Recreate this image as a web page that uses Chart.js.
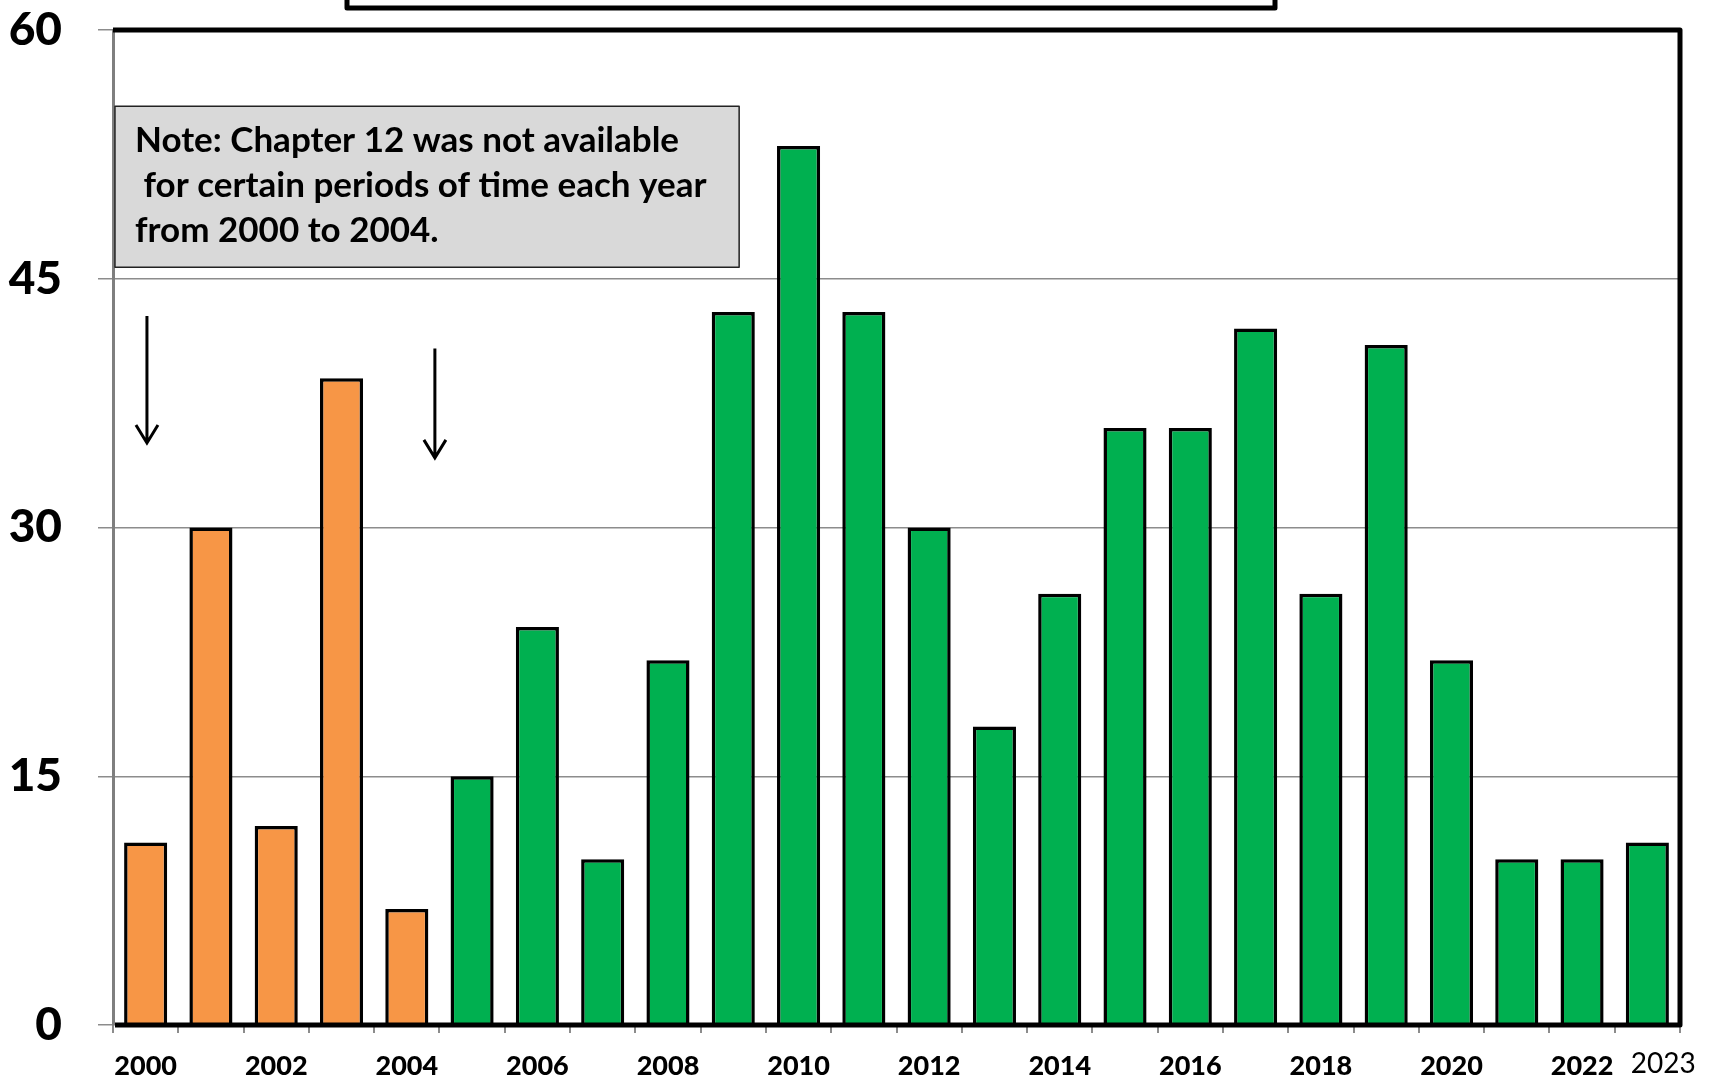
<!DOCTYPE html>
<html>
<head>
<meta charset="utf-8">
<script src="https://cdn.jsdelivr.net/npm/chart.js@4.4.1/dist/chart.umd.min.js"></script>
<style>
  html, body { margin: 0; padding: 0; background: #fff; }
  #wrap { width: 1715px; height: 1078px; }
</style>
</head>
<body>
<div id="wrap"><canvas id="chart" width="1715" height="1078"></canvas></div>
<script>
const years = ['2000', '2001', '2002', '2003', '2004', '2005', '2006', '2007', '2008', '2009', '2010', '2011',
               '2012', '2013', '2014', '2015', '2016', '2017', '2018', '2019', '2020', '2021', '2022', '2023'];
const counts = [11, 30, 12, 39, 7, 15, 24, 10, 22, 43, 53, 43, 30, 18, 26, 36, 36, 42, 26, 41, 22, 10, 10, 11];
// years when Chapter 12 was only partly available
const partialYears = ['2000', '2001', '2002', '2003', '2004'];
const yTicks = [0, 15, 30, 45, 60];
const noteLines = ['Note: Chapter 12 was not available', ' for certain periods of time each year', 'from 2000 to 2004.'];

const ORANGE = '#F79646';
const GREEN = '#00B050';
const FONT = 'Lato';

// arrows and note box, in scale units (category index / count)
const arrows = [
    { x: 0.02, from: 42.75, to: 35.1 },
    { x: 4.43, from: 40.8, to: 34.2 }
];
const noteBox = { x0: -0.47, x1: 9.09, top: 55.4, bottom: 45.7 };

function drawArrow(ctx, x, y1, y2) {
    ctx.beginPath();
    ctx.moveTo(x, y1);
    ctx.lineTo(x, y2);
    ctx.moveTo(x - 11, y2 - 18);
    ctx.lineTo(x, y2);
    ctx.lineTo(x + 11, y2 - 18);
    ctx.stroke();
}

const overlay = {
    id: 'overlay',
    afterDraw(chart) {
        const { ctx, chartArea: a, scales: { x, y } } = chart;
        ctx.save();

        // plot frame (top, right, bottom)
        ctx.strokeStyle = '#000';
        ctx.lineWidth = 5;
        ctx.lineJoin = 'round';
        ctx.beginPath();
        ctx.moveTo(a.left, a.top);
        ctx.lineTo(a.right, a.top);
        ctx.lineTo(a.right, a.bottom);
        ctx.lineTo(a.left + 2, a.bottom);
        ctx.stroke();

        // cut-off title box at the very top
        ctx.fillStyle = '#fff';
        ctx.fillRect(347, -20, 928, 28);
        ctx.strokeRect(347, -20, 928, 28);

        // note box
        const bx0 = x.getPixelForValue(noteBox.x0), bx1 = x.getPixelForValue(noteBox.x1);
        const by0 = y.getPixelForValue(noteBox.top), by1 = y.getPixelForValue(noteBox.bottom);
        ctx.fillStyle = '#D9D9D9';
        ctx.fillRect(bx0, by0, bx1 - bx0, by1 - by0);
        ctx.lineWidth = 1.5;
        ctx.strokeStyle = '#222';
        ctx.strokeRect(bx0, by0, bx1 - bx0, by1 - by0);
        ctx.fillStyle = '#000';
        ctx.font = 'bold 35px ' + FONT;
        ctx.textBaseline = 'alphabetic';
        ctx.textAlign = 'left';
        noteLines.forEach((line, i) => {
            ctx.fillText(line, bx0 + 20, by0 + 46 + i * 45);
        });

        // arrows
        ctx.strokeStyle = '#000';
        ctx.lineWidth = 3;
        ctx.lineJoin = 'miter';
        arrows.forEach(ar => {
            drawArrow(ctx, x.getPixelForValue(ar.x), y.getPixelForValue(ar.from), y.getPixelForValue(ar.to));
        });

        // last year's label sits a little to the right, in a lighter weight
        ctx.font = '28px ' + FONT;
        ctx.textAlign = 'center';
        ctx.textBaseline = 'middle';
        ctx.fillText(years[years.length - 1], x.getPixelForValue(years.length - 1) + 16, a.bottom + 39);

        ctx.restore();
    }
};

new Chart(document.getElementById('chart'), {
    type: 'bar',
    data: {
        labels: years,
        datasets: [{
            data: counts,
            backgroundColor: years.map(yr => partialYears.includes(yr) ? ORANGE : GREEN),
            borderColor: '#000',
            borderWidth: 3.5,
            barPercentage: 0.66,
            categoryPercentage: 1
        }]
    },
    options: {
        responsive: false,
        animation: false,
        layout: { padding: { top: 30, right: 35, left: 0, bottom: 0 } },
        plugins: {
            legend: { display: false },
            tooltip: { enabled: false }
        },
        scales: {
            x: {
                grid: { offset: true, drawOnChartArea: false, tickLength: 8, color: '#8c8c8c', lineWidth: 2 },
                border: { display: false },
                ticks: {
                    autoSkip: false,
                    maxRotation: 0,
                    padding: 17,
                    color: '#000',
                    font: { family: FONT, size: 27, weight: '900' },
                    callback: (v, i) => (i % 2 === 0 && i < years.length - 1) ? years[i] : ''
                },
                afterFit: s => { s.height = 53; s.paddingLeft = 0; s.paddingRight = 0; }
            },
            y: {
                min: 0,
                max: 60,
                afterBuildTicks: s => { s.ticks = yTicks.map(v => ({ value: v })); },
                grid: { color: '#8c8c8c', lineWidth: 1.5, tickLength: 15 },
                border: { color: '#7f7f7f', width: 3 },
                ticks: {
                    padding: 36,
                    color: '#000',
                    font: { family: FONT, size: 46, weight: '900' }
                },
                afterFit: s => { s.width = 113; s.paddingTop = 0; s.paddingBottom = 0; }
            }
        }
    },
    plugins: [overlay]
});
</script>
</body>
</html>
